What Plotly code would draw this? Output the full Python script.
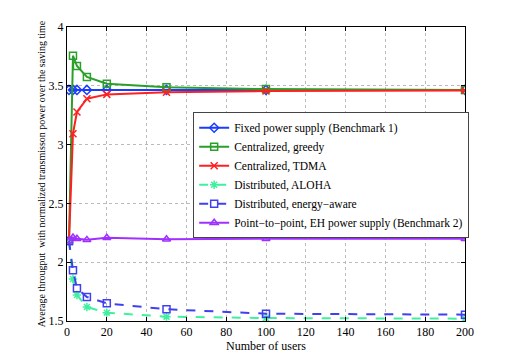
import plotly.graph_objects as go

users = [1, 3, 5, 10, 20, 50, 100, 200]

fixed_bm1 = [3.465, 3.465, 3.465, 3.465, 3.465, 3.465, 3.465, 3.465]
cent_greedy = [2.18, 3.756, 3.668, 3.575, 3.518, 3.487, 3.472, 3.465]
cent_tdma = [2.18, 3.093, 3.277, 3.39, 3.427, 3.445, 3.455, 3.46]
dist_aloha = [2.18, 1.857, 1.721, 1.619, 1.571, 1.537, 1.525, 1.52]
dist_energy = [2.18, 1.931, 1.778, 1.704, 1.65, 1.6, 1.562, 1.554]
p2p_bm2 = [2.18, 2.21, 2.20, 2.19, 2.208, 2.195, 2.2, 2.2]

series = [
    ("Fixed power supply (Benchmark 1)", fixed_bm1, "#1a3cff", "solid", "diamond-open"),
    ("Centralized, greedy", cent_greedy, "#2aa02a", "solid", "square-open"),
    ("Centralized, TDMA", cent_tdma, "#ff2020", "solid", "x-thin-open"),
    ("Distributed, ALOHA", dist_aloha, "#40f0a0", "dash", "asterisk-open"),
    ("Distributed, energy\u2212aware", dist_energy, "#4040f0", "dash", "square-open"),
    ("Point\u2212to\u2212point, EH power supply (Benchmark 2)", p2p_bm2, "#a030ff", "solid", "triangle-up-open"),
]

SERIF = "Liberation Serif, Times New Roman, serif"

fig = go.Figure()
for name, vals, color, dash, sym in series:
    fig.add_trace(go.Scatter(
        x=users, y=vals, name=name, mode="lines+markers",
        line=dict(color=color, width=2, dash=dash),
        marker=dict(symbol=sym, size=7, color=color, line=dict(color=color, width=1.5)),
    ))

axis_common = dict(
    showline=True, linecolor="black", linewidth=1, mirror="ticks",
    ticks="inside", ticklen=4, tickcolor="black",
    showgrid=True, gridcolor="#bbbbbb", griddash="dot", gridwidth=1,
    zeroline=False, automargin=False,
    tickfont=dict(family=SERIF, size=12, color="black"),
)

fig.update_xaxes(range=[0, 200], tickvals=list(range(0, 201, 20)),
                 title=dict(text="Number of users", font=dict(family=SERIF, size=12, color="black"), standoff=0),
                 **axis_common)
fig.update_yaxes(range=[1.5, 4], tickvals=[1.5, 2, 2.5, 3, 3.5, 4],
                 ticktext=["1.5", "2", "2.5", "3", "3.5", "4"],
                 title=dict(text="Average througput  with normalized transmisson power over the saving time",
                            font=dict(family=SERIF, size=10, color="black"), standoff=1),
                 **axis_common)

# the page body adds an 8px offset, so the figure is 8px smaller than the window
fig.update_layout(
    width=504, height=353,
    margin=dict(l=59, r=47, t=19, b=40),
    paper_bgcolor="white", plot_bgcolor="white",
    font=dict(family=SERIF, color="black"),
    legend=dict(x=0.317, y=0.71, xanchor="left", yanchor="top",
                bgcolor="white", bordercolor="#444444", borderwidth=1,
                font=dict(family=SERIF, size=11.5, color="black"), tracegroupgap=0,
                itemwidth=30),
    showlegend=True,
)

fig.write_html("out.html")
